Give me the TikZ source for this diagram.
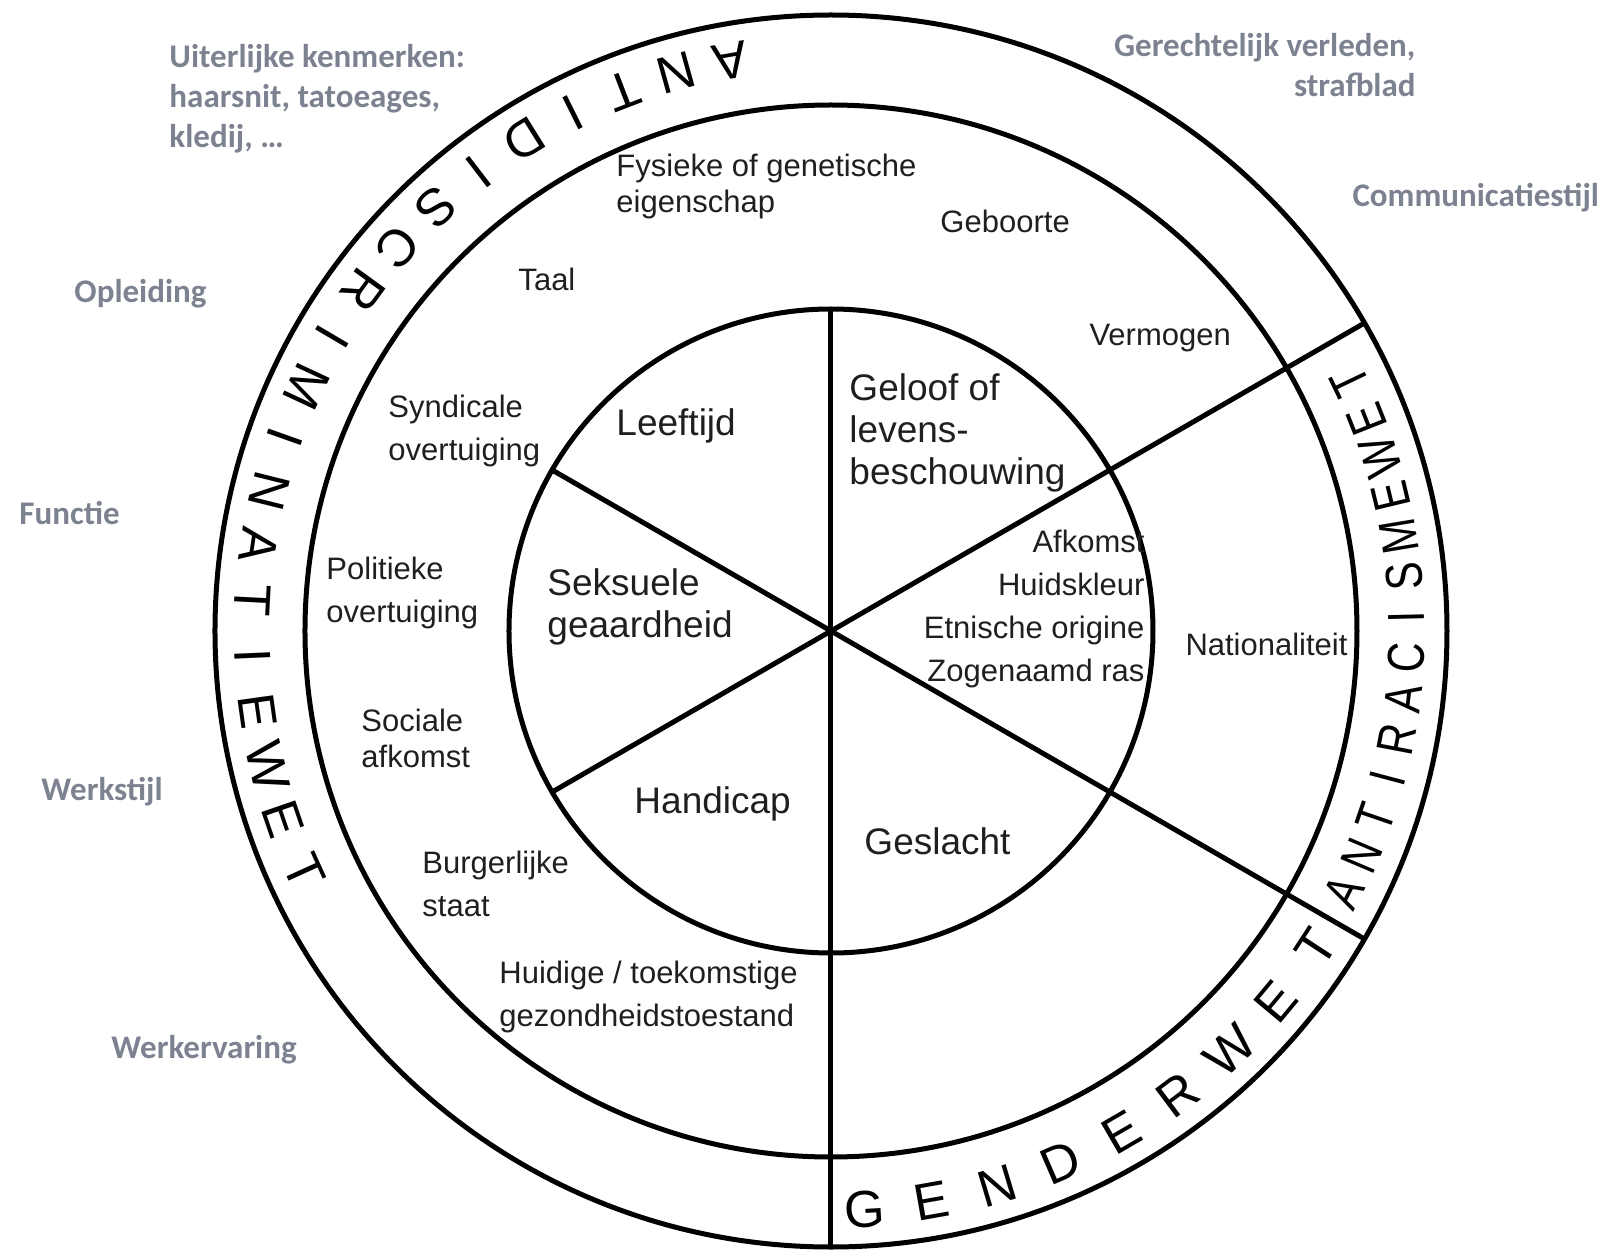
\documentclass[tikz,border=0pt]{standalone}
\usepackage{fontspec}
\setmainfont{Liberation Sans}
\newfontfamily\sidefont{Carlito}
\definecolor{sidegray}{RGB}{125,130,145}

\begin{document}
\begin{tikzpicture}[x=0.5pt,y=0.5pt,line width=2.5pt,
    ring/.style={font=\fontsize{15.5}{21.5}\selectfont,align=left,inner sep=0pt,text=black!88},
    core/.style={font=\fontsize{18.5}{21}\selectfont,align=left,inner sep=0pt,text=black!88},
    side/.style={font=\sidefont\bfseries\fontsize{16.5}{20}\selectfont,inner sep=0pt,text=sidegray},
    band/.style={font=\fontsize{26}{26}\selectfont,inner sep=0pt}]
  \useasboundingbox (-831,-623) rectangle (782,631);
  % rings
  \coordinate (c) at (0,0);
  \draw (c) circle (322);
  \draw (c) circle (526);
  \draw (c) circle (616);
  % spokes
  \coordinate (s90) at (90:322);
  \coordinate (s150) at (150:322);
  \coordinate (s210) at (210:322);
  \coordinate (s30) at (30:616);
  \coordinate (s270) at (270:616);
  \coordinate (s330) at (330:616);
  \draw (s90) -- (s270);
  \draw (c) -- (s30);
  \draw (c) -- (s150);
  \draw (c) -- (s210);
  \draw (c) -- (s330);
  % outer band
  \foreach \ch [count=\i from 0] in {A,N,T,I,D,I,S,C,R,I,M,I,N,A,T,I,E,W,E,T}
    \node[band,rotate={190+5.5*\i}] (adw\i) at ({100+5.5*\i}:579) {\ch};
  \foreach \ch [count=\i from 0] in {G,E,N,D,E,R,W,E,T}
    \node[band,rotate={363.3+6.7*\i}] (gw\i) at ({273.3+6.7*\i}:579) {\ch};
  \foreach \ch [count=\i from 0] in {A,N,T,I,R,A,C,I,S,M,E,W,E,T}
    \node[band,rotate={63+4.05*\i},xscale=0.8] (arw\i) at ({-27+4.05*\i}:576) {\ch};
  % core
  \node[core,anchor=west] (leeftijd) at (-217,205) {Leeftijd};
  \node[core,anchor=west] (geloof) at (16,198) {Geloof of\\levens-\\beschouwing};
  \node[core,anchor=west] (seksueel) at (-286,24) {Seksuele\\geaardheid};
  \node[core,anchor=west] (handicap) at (-199,-173) {Handicap};
  \node[core,anchor=west] (geslacht) at (31,-210) {Geslacht};
  \node[ring,anchor=east,align=right] (afkomst) at (316,22) {Afkomst\\Huidskleur\\Etnische origine\\Zogenaamd ras};
  % middle ring
  \node[ring,anchor=west,font=\fontsize{15.5}{18}\selectfont] (fysiek) at (-217,445) {Fysieke of genetische\\eigenschap};
  \node[ring,anchor=west] (geboorte) at (107,410) {Geboorte};
  \node[ring,anchor=west] (taal) at (-315,352) {Taal};
  \node[ring,anchor=west] (vermogen) at (256,293) {Vermogen};
  \node[ring,anchor=west] (syndicaal) at (-445,200) {Syndicale\\overtuiging};
  \node[ring,anchor=west] (politiek) at (-507,38) {Politieke\\overtuiging};
  \node[ring,anchor=west,font=\fontsize{15.5}{18}\selectfont] (sociaal) at (-472,-107) {Sociale\\afkomst};
  \node[ring,anchor=west] (burger) at (-411,-253) {Burgerlijke\\staat};
  \node[ring,anchor=west] (gezond) at (-334,-366) {Huidige / toekomstige\\gezondheidstoestand};
  \node[ring,anchor=west] (nation) at (352,-13) {Nationaliteit};
  % outside
  \node[side,anchor=west,align=left] (uiterlijk) at (-664,532) {Uiterlijke kenmerken:\\haarsnit, tatoeages,\\kledij, …};
  \node[side,anchor=east,align=right] (gerecht) at (587,566) {Gerechtelijk verleden,\\strafblad};
  \node[side,anchor=west] (communicatie) at (519,433) {Communicatiestijl};
  \node[side,anchor=west] (opleiding) at (-759,337) {Opleiding};
  \node[side,anchor=west] (functie) at (-814,118) {Functie};
  \node[side,anchor=west] (werkstijl) at (-792,-161) {Werkstijl};
  \node[side,anchor=west] (werkervaring) at (-722,-419) {Werkervaring};
\end{tikzpicture}
\end{document}
